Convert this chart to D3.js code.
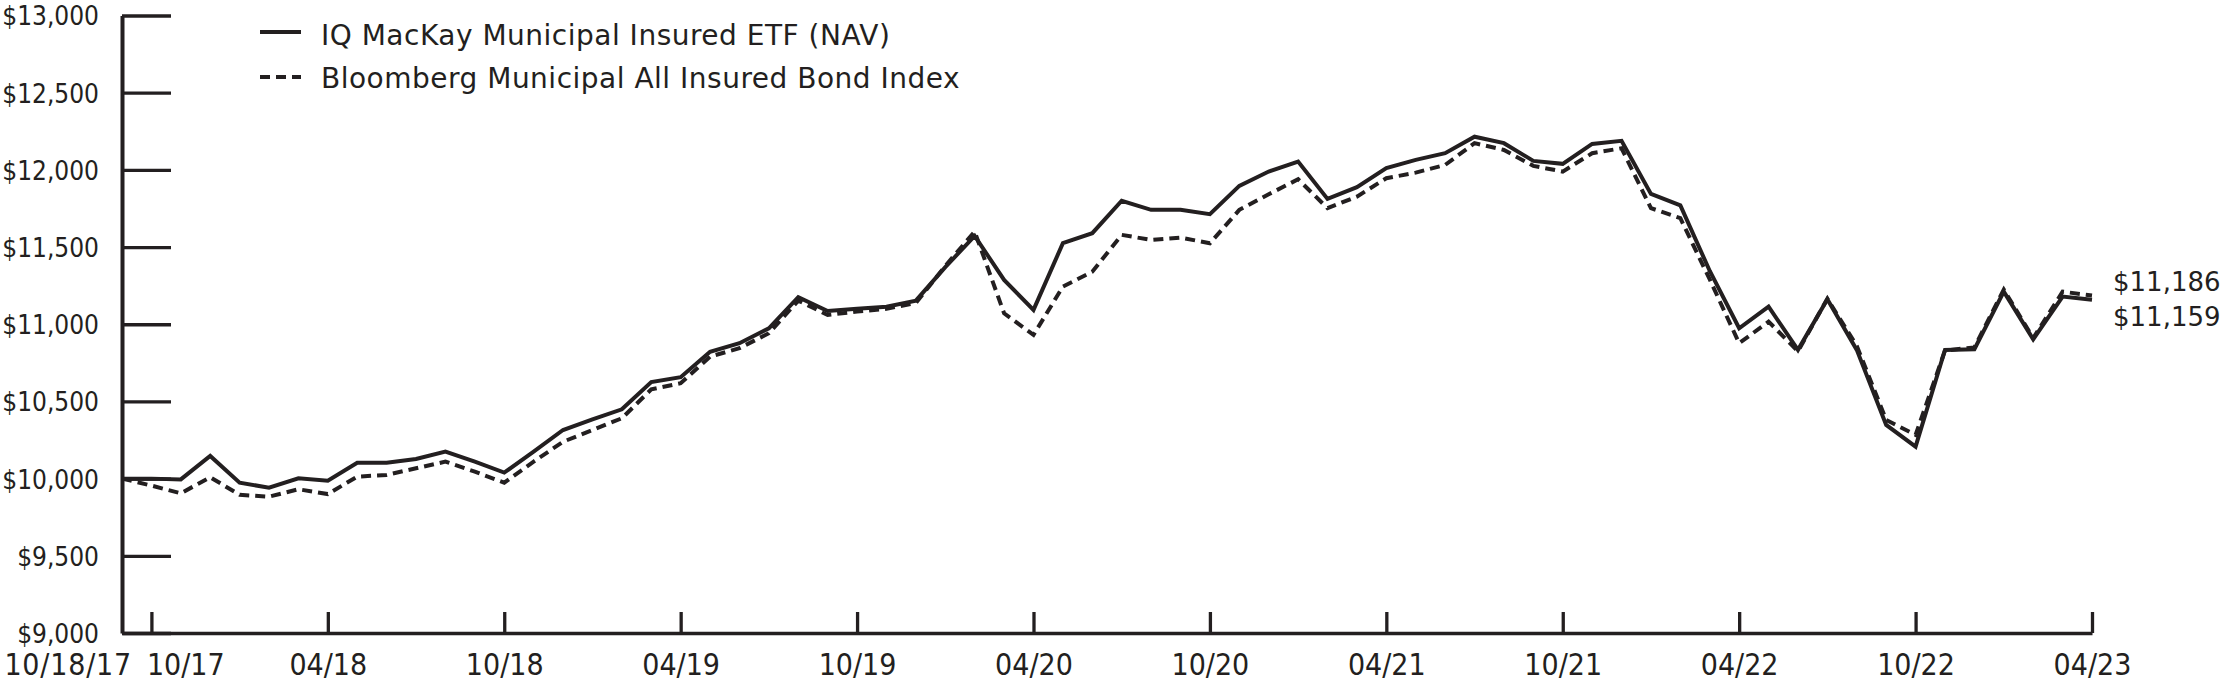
<!DOCTYPE html>
<html>
<head>
<meta charset="utf-8">
<script src="https://cdn.jsdelivr.net/npm/d3@7"></script>
<style>
  html, body { margin: 0; padding: 0; background: #fff; }
  svg { display: block; }
  .ylab { font-family: "DejaVu Sans Condensed", "DejaVu Sans", sans-serif; font-stretch: condensed; font-size: 26px; font-weight: 400; fill: #231f20; }
  .xlab { font-family: "DejaVu Sans Condensed", "DejaVu Sans", sans-serif; font-stretch: condensed; font-size: 30px; font-weight: 400; fill: #231f20; }
  .leg { font-family: "DejaVu Sans", sans-serif; font-size: 28px; font-weight: 400; letter-spacing: 0.5px; fill: #231f20; }
  .endlab { font-family: "DejaVu Sans", sans-serif; font-size: 26px; font-weight: 400; fill: #231f20; }
</style>
</head>
<body>
<svg id="chart" width="2227" height="691"></svg>
<script>
// ---- data ----
const startLabel = "10/18/17";
const periodCount = 68; // inception + 67 month-ends (10/17 .. 04/23)
const tickIndex  = [1, 7, 13, 19, 25, 31, 37, 43, 49, 55, 61, 67];
const tickLabels = ["10/17","04/18","10/18","04/19","10/19","04/20","10/20","04/21","10/21","04/22","10/22","04/23"];
const yTicks = [9000, 9500, 10000, 10500, 11000, 11500, 12000, 12500, 13000];

const seriesNames = ["IQ MacKay Municipal Insured ETF (NAV)", "Bloomberg Municipal All Insured Bond Index"];

const etfValues = [
  10000, 10000, 9995, 10147, 9974, 9941, 10002, 9987, 10103, 10103,
  10127, 10175, 10110, 10039, 10175, 10315, 10384, 10449, 10625, 10657,
  10822, 10877, 10974, 11175, 11086, 11100, 11114, 11153, 11370, 11572,
  11287, 11093, 11525, 11590, 11800, 11741, 11742, 11713, 11896, 11989,
  12054, 11812, 11888, 12011, 12065, 12108, 12215, 12173, 12058, 12039,
  12168, 12188, 11844, 11770, 11345, 10974, 11114, 10834, 11162, 10834,
  10348, 10207, 10834, 10838, 11211, 10903, 11179, 11159
];
const indexValues = [
  10000, 9955, 9905, 10009, 9895, 9883, 9931, 9900, 10013, 10024,
  10067, 10110, 10045, 9974, 10110, 10239, 10315, 10391, 10578, 10618,
  10790, 10845, 10942, 11153, 11060, 11082, 11100, 11138, 11378, 11600,
  11071, 10931, 11244, 11340, 11579, 11546, 11561, 11525, 11741, 11842,
  11939, 11752, 11827, 11946, 11982, 12032, 12173, 12129, 12026, 11989,
  12108, 12140, 11752, 11687, 11290, 10877, 11017, 10825, 11165, 10860,
  10380, 10283, 10830, 10850, 11225, 10910, 11211, 11186
];
const endLabels = ["$11,159", "$11,186"];

// ---- layout ----
const ink = "#231f20";
const svg = d3.select("#chart");
const x = d3.scaleLinear().domain([0, periodCount - 1]).range([122, 2092]);
const y = d3.scaleLinear().domain([9000, 13000]).range([633, 15.5]);

// y axis
const yAxis = d3.axisLeft(y)
  .tickValues(yTicks)
  .tickFormat(d => "$" + d3.format(",")(d))
  .tickSizeInner(-49)
  .tickSizeOuter(0)
  .tickPadding(23);
const gy = svg.append("g").attr("transform", `translate(${x(0)},0)`).call(yAxis);
gy.select(".domain").attr("stroke", ink).attr("stroke-width", 4);
gy.selectAll(".tick line").attr("stroke", ink).attr("stroke-width", 3.3);
gy.selectAll(".tick text").attr("class", "ylab").attr("fill", ink).attr("dy", "0.36em");

// x axis
const xAxis = d3.axisBottom(x)
  .tickValues(tickIndex)
  .tickFormat((d, i) => tickLabels[i])
  .tickSizeInner(-21)
  .tickSizeOuter(0)
  .tickPadding(21);
const gx = svg.append("g").attr("transform", `translate(0,${y(9000)})`).call(xAxis);
gx.select(".domain").attr("stroke", ink).attr("stroke-width", 3.6);
gx.selectAll(".tick line").attr("stroke", ink).attr("stroke-width", 3.3);
gx.selectAll(".tick text").attr("class", "xlab").attr("fill", ink);
// first month label sits to the right of its tick
gx.selectAll(".tick text").filter((d, i) => i === 0).attr("text-anchor", "start").attr("x", -5);
// inception label
gx.append("text").attr("class", "xlab")
  .attr("x", x(0) + 10).attr("y", 21).attr("dy", "0.71em")
  .attr("text-anchor", "end").attr("letter-spacing", "0.8px").text(startLabel);

// lines
const line = d3.line().x((d, i) => x(i)).y(d => y(d)).curve(d3.curveLinear);
svg.append("path").datum(indexValues)
  .attr("fill", "none").attr("stroke", ink).attr("stroke-width", 4)
  .attr("stroke-dasharray", "10,6").attr("stroke-linejoin", "miter")
  .attr("d", line);
svg.append("path").datum(etfValues)
  .attr("fill", "none").attr("stroke", ink).attr("stroke-width", 4)
  .attr("stroke-linejoin", "miter")
  .attr("d", line);

// end labels
const last = periodCount - 1;
svg.append("text").attr("class", "endlab")
  .attr("x", x(last) + 21).attr("y", y(indexValues[last]) - 14).attr("dy", "0.36em")
  .text(endLabels[1]);
svg.append("text").attr("class", "endlab")
  .attr("x", x(last) + 21).attr("y", y(etfValues[last]) + 17).attr("dy", "0.36em")
  .text(endLabels[0]);

// legend
const legend = svg.append("g");
const rows = [
  {name: seriesNames[0], dash: null, ly: 32, ty: 35},
  {name: seriesNames[1], dash: "10,6", ly: 77, ty: 78}
];
rows.forEach(r => {
  legend.append("line")
    .attr("x1", 260).attr("x2", 301).attr("y1", r.ly).attr("y2", r.ly)
    .attr("stroke", ink).attr("stroke-width", 4)
    .attr("stroke-dasharray", r.dash);
  legend.append("text").attr("class", "leg")
    .attr("x", 321).attr("y", r.ty).attr("dy", "0.36em").text(r.name);
});
</script>
</body>
</html>
